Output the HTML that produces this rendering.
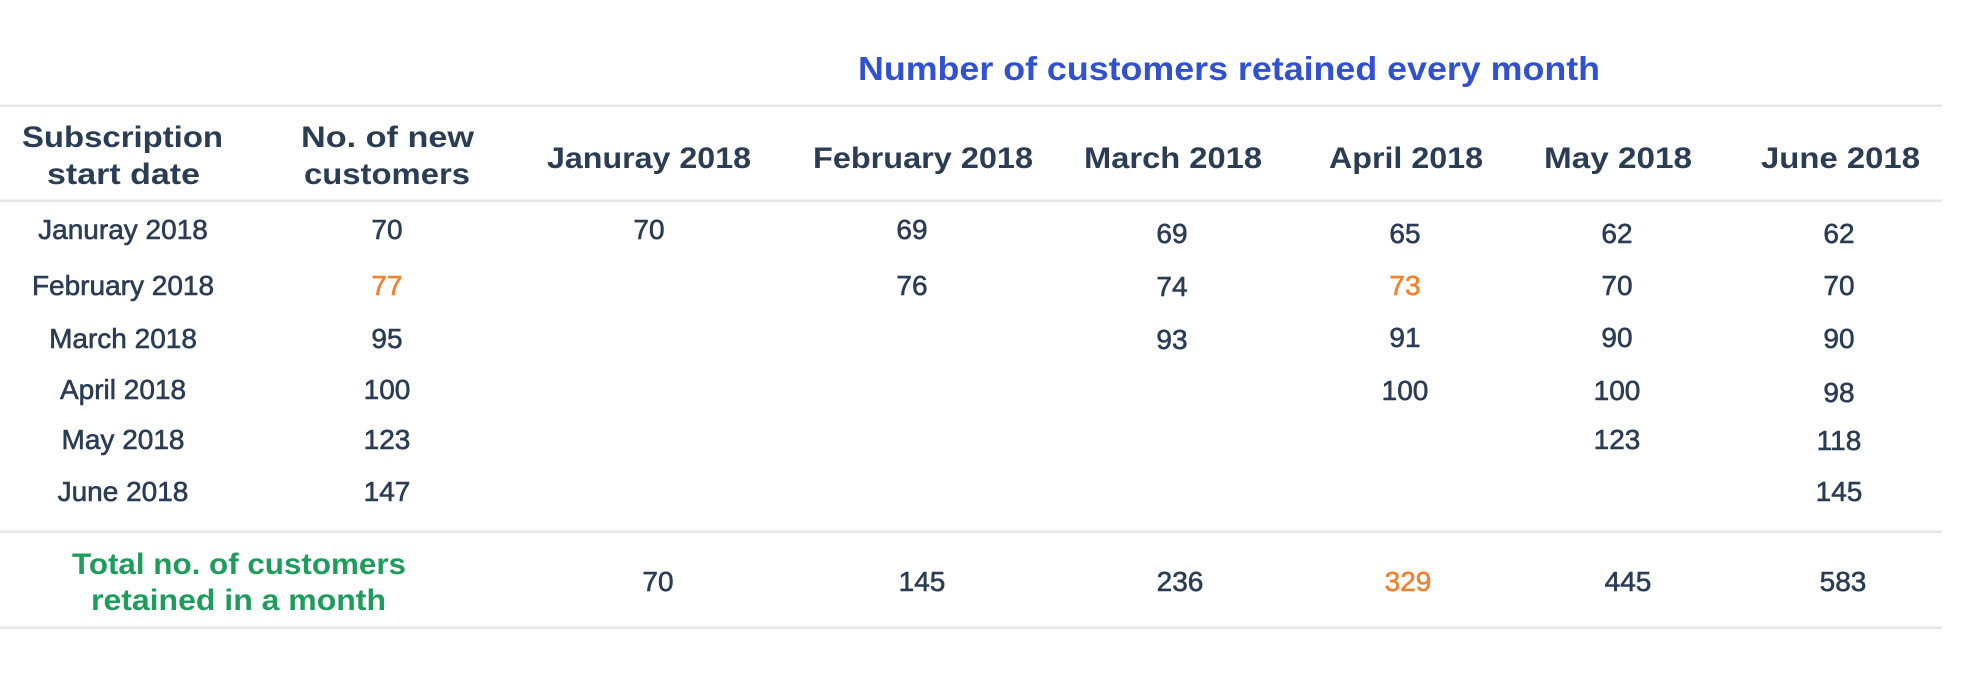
<!DOCTYPE html>
<html><head><meta charset="utf-8"><style>
html,body{margin:0;padding:0;background:#fff;}
svg{display:block;}
text{font-family:"Liberation Sans",sans-serif;}
.h{font-weight:bold;font-size:30px;fill:#2b3d55;}
.d{font-size:28px;fill:#2b3d55;stroke:#2b3d55;stroke-width:0.6px;}
.d .o{fill:#f08232;stroke:#f08232;}
.g{font-weight:bold;font-size:30px;fill:#1e9c5c;}
</style></head><body>
<svg width="1965" height="695" viewBox="0 0 1965 695">
<g fill="#e6e6e6">
<rect x="0" y="104.5" width="1942" height="2.5"/>
<rect x="0" y="199.5" width="1942" height="2.5"/>
<rect x="0" y="530.5" width="1942" height="2.5"/>
<rect x="0" y="626.5" width="1942" height="2.5"/>
</g>
<text x="858" y="80" font-size="33" font-weight="bold" fill="#3151d3" textLength="742" lengthAdjust="spacingAndGlyphs">Number of customers retained every month</text>
<g class="h">
<text x="22" y="147" textLength="201" lengthAdjust="spacingAndGlyphs">Subscription</text>
<text x="47" y="184" textLength="153" lengthAdjust="spacingAndGlyphs">start date</text>
<text x="301" y="147" textLength="173" lengthAdjust="spacingAndGlyphs">No. of new</text>
<text x="304" y="184" textLength="166" lengthAdjust="spacingAndGlyphs">customers</text>
<text x="547" y="168" textLength="204" lengthAdjust="spacingAndGlyphs">Januray 2018</text>
<text x="813" y="168" textLength="220" lengthAdjust="spacingAndGlyphs">February 2018</text>
<text x="1084" y="168" textLength="178" lengthAdjust="spacingAndGlyphs">March 2018</text>
<text x="1329" y="168" textLength="154" lengthAdjust="spacingAndGlyphs">April 2018</text>
<text x="1544" y="168" textLength="148" lengthAdjust="spacingAndGlyphs">May 2018</text>
<text x="1761" y="168" textLength="159" lengthAdjust="spacingAndGlyphs">June 2018</text>
</g>
<g class="d" text-anchor="middle">
<text x="123" y="239">Januray 2018</text>
<text x="123" y="295">February 2018</text>
<text x="123" y="348">March 2018</text>
<text x="123" y="399">April 2018</text>
<text x="123" y="449">May 2018</text>
<text x="123" y="501">June 2018</text>

<text x="387" y="239">70</text>
<text x="387" y="295" class="o">77</text>
<text x="387" y="348">95</text>
<text x="387" y="399">100</text>
<text x="387" y="449">123</text>
<text x="387" y="501">147</text>

<text x="649" y="239">70</text>

<text x="912" y="239">69</text>
<text x="912" y="295">76</text>

<text x="1172" y="243">69</text>
<text x="1172" y="296">74</text>
<text x="1172" y="349">93</text>

<text x="1405" y="243">65</text>
<text x="1405" y="295" class="o">73</text>
<text x="1405" y="347">91</text>
<text x="1405" y="400">100</text>

<text x="1617" y="243">62</text>
<text x="1617" y="295">70</text>
<text x="1617" y="347">90</text>
<text x="1617" y="400">100</text>
<text x="1617" y="449">123</text>

<text x="1839" y="243">62</text>
<text x="1839" y="295">70</text>
<text x="1839" y="348">90</text>
<text x="1839" y="402">98</text>
<text x="1839" y="450">118</text>
<text x="1839" y="501">145</text>

<text x="658" y="591">70</text>
<text x="922" y="591">145</text>
<text x="1180" y="591">236</text>
<text x="1408" y="591" class="o">329</text>
<text x="1628" y="591">445</text>
<text x="1843" y="591">583</text>
</g>
<text class="g" x="72" y="574" textLength="334" lengthAdjust="spacingAndGlyphs">Total no. of customers</text>
<text class="g" x="91" y="610" textLength="295" lengthAdjust="spacingAndGlyphs">retained in a month</text>
</svg>
</body></html>
